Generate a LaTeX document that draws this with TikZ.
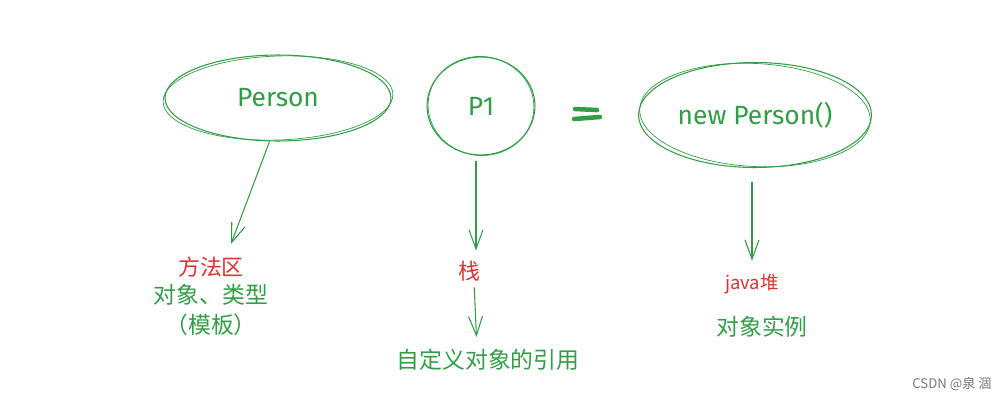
\documentclass[tikz,border=0pt]{standalone}
\usepackage{fontspec}
\setmainfont{Fira Sans}
\newfontfamily\cjk{Noto Sans CJK SC}
\usetikzlibrary{shapes.geometric,arrows.meta,positioning}
\definecolor{sketchgreen}{HTML}{2F9E44}
\definecolor{sketchred}{HTML}{E03131}
\definecolor{markgray}{RGB}{120,120,120}

\begin{document}
\begin{tikzpicture}[x=0.02cm, y=-0.02cm,
    blob/.style={draw=sketchgreen, ellipse, line width=0.6pt, inner sep=0pt,
                 text=sketchgreen, font=\fontsize{15}{18}\selectfont},
    trace/.style={draw=sketchgreen, line width=0.4pt},
    arr/.style={draw=sketchgreen, line width=0.6pt,
                -{Straight Barb[length=11pt, width=8pt, line width=0.6pt]}},
    zone/.style={text=#1, inner sep=0pt, font=\cjk\fontsize{12.5}{15}\selectfont},
    info/.style={text=sketchgreen, inner sep=0pt, align=center,
                 font=\cjk\fontsize{13}{17}\selectfont},
]
\useasboundingbox (0,0) rectangle (1005,403);

% Klassen und Referenz
\node[blob, minimum width=4.52cm, minimum height=1.72cm] (person) at (278,98) {Person};
\draw[trace, rotate around={2:(person.center)}] (person.center) ellipse [x radius=2.3cm, y radius=0.84cm];

\node[blob, minimum width=2.16cm, minimum height=1.96cm] (p1) at (481,106) {P1};
\draw[trace, rotate around={-8:(p1.center)}] (p1.center) ellipse [x radius=1.06cm, y radius=0.99cm];

\node[blob, minimum width=4.66cm, minimum height=2.1cm] (np) at (755,115) {new Person()};
\draw[trace, rotate around={-3:(np.center)}] (np.center) ellipse [x radius=2.31cm, y radius=1.03cm];

% Gleichheitszeichen
\draw[sketchgreen, line width=2.6pt, line cap=round] (575,109) -- (597,110);
\draw[sketchgreen, line width=2.6pt, line cap=round] (574,119) -- (600,117);

% Speicherbereiche
\node[zone=sketchred] (fang) at (211,267) {方法区};
\node[info] (tpl) at (211,310) {对象、类型\\（模板）};

\node[zone=sketchred] (zhan) at (469,271) {栈};
\node[info] (ref) at (488,360) {自定义对象的引用};

\node[zone=sketchred, font=\cjk\fontsize{10.5}{13}\selectfont] (heap) at (752,284) {java堆};
\node[info] (inst) at (762,327) {对象实例};

% Pfeile
\draw[arr] (person.-101) -- ([xshift=0.4cm, yshift=0.25cm]fang.north);
\draw[arr, shorten <=0.1cm, shorten >=0.2cm] ([xshift=-0.1cm]p1.south) -- ([xshift=-0.1cm]p1.south |- zhan.north);
\draw[arr, shorten <=0.12cm, shorten >=0.24cm] ([xshift=0.1cm]zhan.south) -- ([xshift=-0.22cm]ref.north);
\draw[arr, shorten <=0.28cm, shorten >=0.26cm] ([xshift=-0.06cm]np.south) -- ([xshift=-0.06cm]np.south |- heap.north);

% Wasserzeichen
\node[text=markgray, inner sep=0pt, font=\cjk\fontsize{7.5}{9}\selectfont] (mark) at (952,384) {CSDN @泉 涸};

\end{tikzpicture}
\end{document}
